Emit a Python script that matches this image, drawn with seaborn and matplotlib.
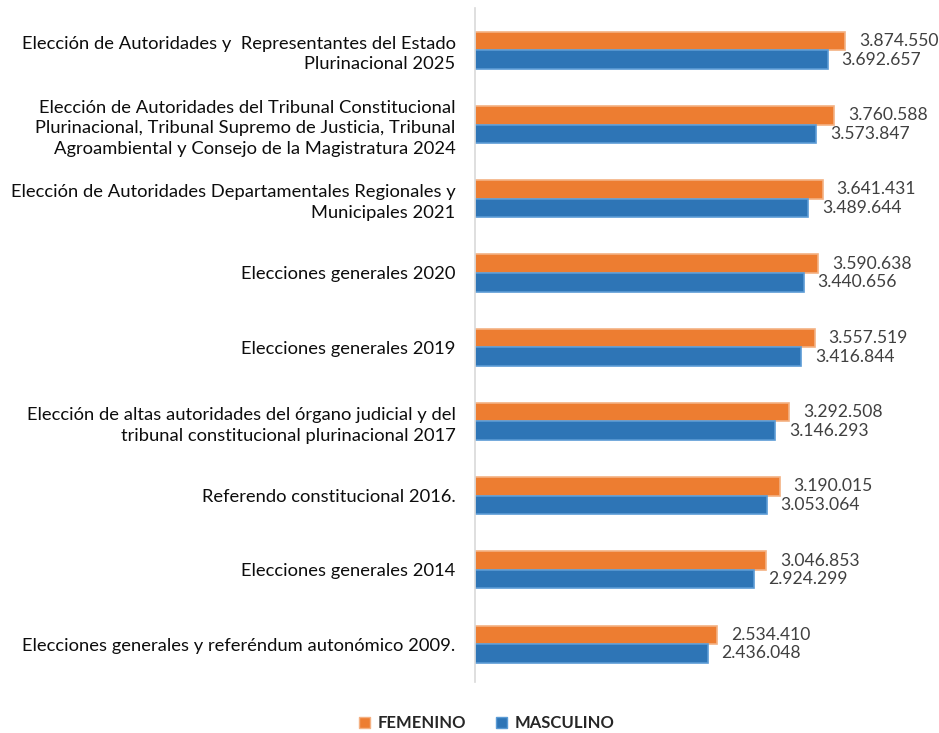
import matplotlib
matplotlib.use("Agg")
import matplotlib.pyplot as plt
import seaborn as sns
import pandas as pd
from matplotlib.patches import Patch

categories = [
    "Elección de Autoridades y  Representantes del Estado\nPlurinacional 2025",
    "Elección de Autoridades del Tribunal Constitucional\nPlurinacional, Tribunal Supremo de Justicia, Tribunal\nAgroambiental y Consejo de la Magistratura 2024",
    "Elección de Autoridades Departamentales Regionales y\nMunicipales 2021",
    "Elecciones generales 2020",
    "Elecciones generales 2019",
    "Elección de altas autoridades del órgano judicial y del\ntribunal constitucional plurinacional 2017",
    "Referendo constitucional 2016.",
    "Elecciones generales 2014",
    "Elecciones generales y referéndum autonómico 2009.",
]
femenino = [3874550, 3760588, 3641431, 3590638, 3557519, 3292508, 3190015, 3046853, 2534410]
masculino = [3692657, 3573847, 3489644, 3440656, 3416844, 3146293, 3053064, 2924299, 2436048]
series = ["FEMENINO", "MASCULINO"]
colors = {"FEMENINO": "#ED7D31", "MASCULINO": "#2E75B6"}
edges = {"FEMENINO": "#F4B183", "MASCULINO": "#5B9BD5"}

df = pd.DataFrame({
    "cat": categories * 2,
    "serie": [series[0]] * len(categories) + [series[1]] * len(categories),
    "valor": femenino + masculino,
})

sns.set_theme(style="white")
plt.rcParams["font.family"] = ["Lato", "DejaVu Sans"]

fig = plt.figure(figsize=(9.39, 7.33), dpi=100)
ax = fig.add_axes([475 / 939, 1 - 682 / 733, 460 / 939, 674 / 733])

sns.barplot(data=df, y="cat", x="valor", hue="serie", order=categories,
            hue_order=series, palette=colors, orient="h", width=0.5,
            ax=ax, legend=False, saturation=1)

for cont, s in zip(ax.containers, series):
    for p in cont.patches:
        p.set_edgecolor(edges[s])
        p.set_linewidth(1.2)
    labels = [f"{v:,.0f}".replace(",", ".") for v in cont.datavalues]
    ax.bar_label(cont, labels=labels, padding=10, fontsize=12.6, color="#404040")

ax.set_xlim(0, 460 / 95.5 * 1e6)
ax.set_ylim(8.51, -0.57)
ax.set_xlabel("")
ax.set_ylabel("")
ax.set_xticks([])
ax.tick_params(axis="y", length=0, pad=14, labelsize=13.2, labelcolor="#0d0d0d")
for t in ax.get_yticklabels():
    t.set_linespacing(1.35)
    t.set_horizontalalignment("right")
for s in ["top", "right", "bottom"]:
    ax.spines[s].set_visible(False)
ax.spines["left"].set_color("#D9D9D9")
ax.spines["left"].set_linewidth(1.2)

handles = [Patch(facecolor=colors[s], edgecolor=edges[s]) for s in series]
leg = fig.legend(handles, series, loc="center", bbox_to_anchor=(487 / 939, 1 - 723 / 733),
                 ncol=2, frameon=False, handlelength=0.65, handleheight=0.65,
                 handletextpad=0.45, columnspacing=1.8,
                 prop={"weight": "bold", "size": 12})

fig.savefig("out.png", dpi=100)
